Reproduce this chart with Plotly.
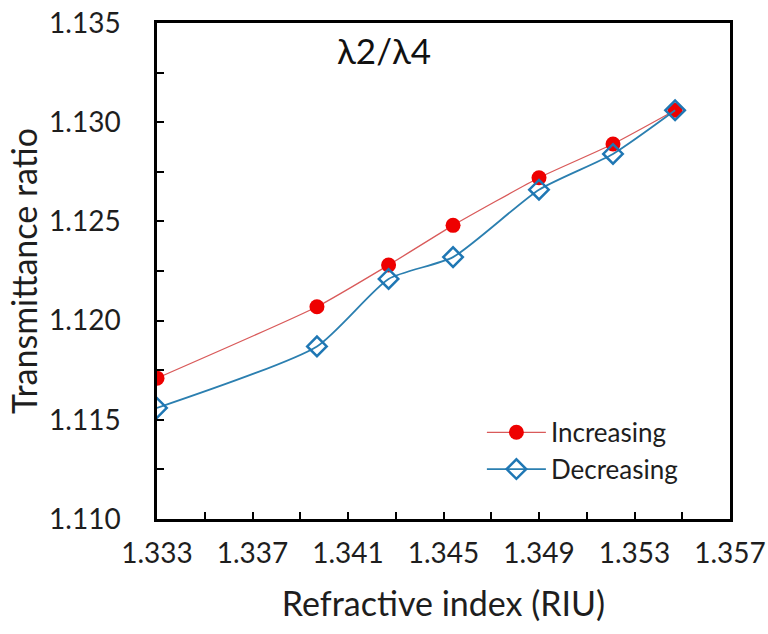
import plotly.graph_objects as go

ri = [1.3330, 1.3397, 1.3427, 1.3454, 1.3490, 1.3521, 1.3547]
increasing = [1.1171, 1.1207, 1.1228, 1.1248, 1.1272, 1.1289, 1.1306]
decreasing = [1.1156, 1.1187, 1.1221, 1.1232, 1.1266, 1.1284, 1.1306]
x_ticks = [1.333, 1.337, 1.341, 1.345, 1.349, 1.353, 1.357]
y_ticks = [1.110, 1.115, 1.120, 1.125, 1.130, 1.135]

FONT = "Lato, Open Sans, sans-serif"
TXT = "#1e1e1e"

fig = go.Figure()
fig.add_trace(go.Scatter(
    x=ri, y=increasing, name="Increasing", mode="lines+markers",
    line=dict(color="#d95a5a", width=1.3, shape="spline", smoothing=0.5),
    marker=dict(symbol="circle", size=15, color="#ee0000", line=dict(width=0)),
))
fig.add_trace(go.Scatter(
    x=ri, y=decreasing, name="Decreasing", mode="lines+markers",
    line=dict(color="#2b7fb0", width=1.8, shape="spline", smoothing=0.6),
    marker=dict(symbol="diamond-open", size=15, color="#1f77b4",
                line=dict(width=2.5, color="#1f77b4")),
))

fig.update_layout(
    width=768, height=634,
    margin=dict(l=157, r=38, t=23, b=115),
    paper_bgcolor="white", plot_bgcolor="white",
    font=dict(family=FONT, color=TXT),
    showlegend=True,
    legend=dict(x=0.567, y=0.222, xanchor="left", yanchor="top",
                bgcolor="rgba(0,0,0,0)", font=dict(size=26, family=FONT, color=TXT),
                itemwidth=59, tracegroupgap=0),
    annotations=[dict(text="λ2/λ4", x=(384 - 157) / 573, y=(519 - 50) / 496,
                      xref="x domain", yref="y domain", xanchor="center", yanchor="middle",
                      showarrow=False, font=dict(size=35, family=FONT, color="#111111"))],
)

fig.update_xaxes(
    range=[1.333, 1.357], tickvals=x_ticks, ticktext=[f"{v:.3f}" for v in x_ticks],
    ticks="inside", ticklen=7, tickwidth=2, tickcolor="black",
    minor=dict(dtick=0.002, tick0=1.333, ticks="inside", ticklen=7, tickwidth=2, tickcolor="black"),
    showline=True, linewidth=2.5, linecolor="black", mirror=True,
    showgrid=False, zeroline=False, ticklabelstandoff=8, automargin=False,
    tickfont=dict(size=28, family=FONT, color=TXT),
    title=dict(text="Refractive index (RIU)", font=dict(size=34, family=FONT, color=TXT), standoff=24),
)
fig.update_yaxes(
    range=[1.110, 1.135], tickvals=y_ticks, ticktext=[f"{v:.3f}" for v in y_ticks],
    ticks="inside", ticklen=7, tickwidth=2, tickcolor="black",
    minor=dict(dtick=0.0025, tick0=1.110, ticks="inside", ticklen=7, tickwidth=2, tickcolor="black"),
    showline=True, linewidth=2.5, linecolor="black", mirror=True,
    showgrid=False, zeroline=False, ticklabelstandoff=28, automargin=False,
    tickfont=dict(size=28, family=FONT, color=TXT),
    title=dict(text="Transmittance ratio", font=dict(size=34, family=FONT, color=TXT), standoff=2),
)

fig.write_html("out.html")
